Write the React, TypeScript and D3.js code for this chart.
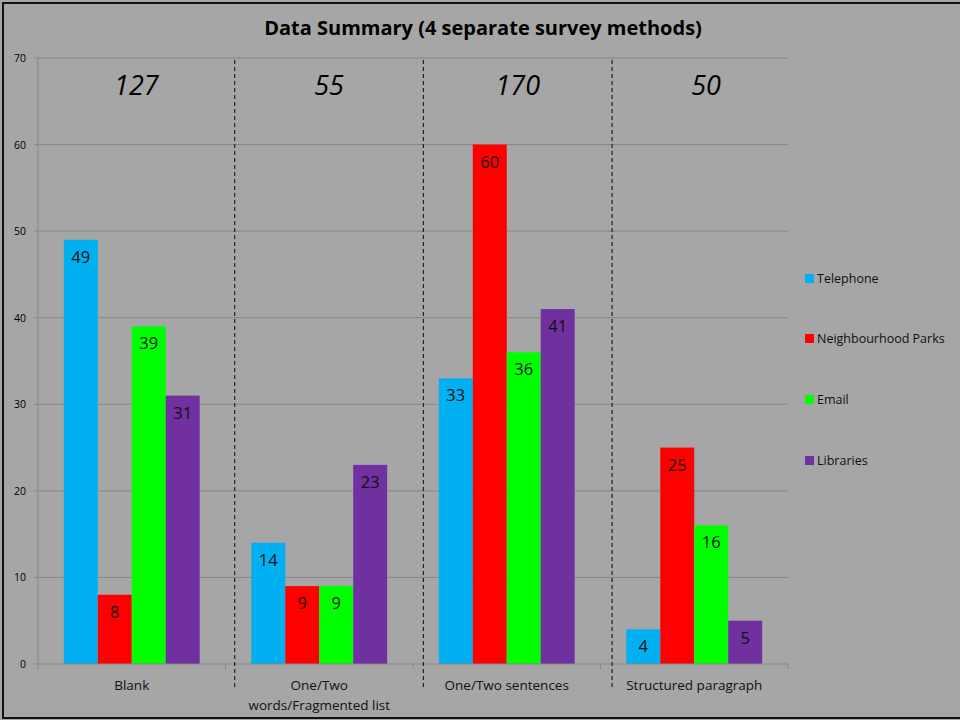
import React, { useEffect, useRef } from 'react';
import * as d3 from 'd3';

// categories, series and the totals shown above each group
const categories = ['Blank', 'One/Two words/Fragmented list', 'One/Two sentences', 'Structured paragraph'];
const categoryLines = [['Blank'], ['One/Two', 'words/Fragmented list'], ['One/Two sentences'], ['Structured paragraph']];
const seriesNames = ['Telephone', 'Neighbourhood Parks', 'Email', 'Libraries'];
const seriesColors = ['#00B0F0', '#FF0000', '#00FF00', '#7030A0'];
const telephone = [49, 14, 33, 4];
const parks = [8, 9, 60, 25];
const email = [39, 9, 36, 16];
const libraries = [31, 23, 41, 5];
const totals = [127, 55, 170, 50];
const yTicks = [0, 10, 20, 30, 40, 50, 60, 70];

const FONT = '"Open Sans", "Noto Sans", sans-serif';

const App = () => {
  const ref = useRef<SVGSVGElement | null>(null);

  useEffect(() => {
    const svg = d3.select(ref.current);
    svg.selectAll('*').remove();

    const W = 960, H = 720;
    const plot = { left: 38, right: 788, top: 58, bottom: 664 };

    svg.append('rect').attr('width', W).attr('height', H).attr('fill', '#A6A6A6');
    svg.append('rect')
      .attr('x', 3).attr('y', 3).attr('width', W + 10).attr('height', H - 5)
      .attr('fill', 'none').attr('stroke', '#111').attr('stroke-width', 2);

    // title
    svg.append('text')
      .attr('x', 483).attr('y', 35)
      .attr('text-anchor', 'middle')
      .style('font-family', FONT).style('font-size', '20px').style('font-weight', 'bold')
      .attr('fill', '#000')
      .text('Data Summary (4 separate survey methods)');

    const x0 = d3.scaleBand<string>().domain(categories).range([plot.left, plot.right]).paddingInner(0).paddingOuter(0);
    const x1 = d3.scaleBand<string>().domain(seriesNames).range([0, x0.bandwidth()]).paddingInner(0).paddingOuter(0.76);
    const y = d3.scaleLinear().domain([0, 70]).range([plot.bottom, plot.top]);

    // gridlines
    svg.append('g').selectAll('line')
      .data(yTicks.slice(1))
      .enter().append('line')
      .attr('x1', plot.left).attr('x2', plot.right)
      .attr('y1', d => y(d)).attr('y2', d => y(d))
      .attr('stroke', '#878787').attr('stroke-width', 1);

    // y axis line and labels
    svg.append('line')
      .attr('x1', plot.left).attr('x2', plot.left)
      .attr('y1', plot.top).attr('y2', plot.bottom)
      .attr('stroke', '#878787');
    svg.append('g').selectAll('line')
      .data(yTicks)
      .enter().append('line')
      .attr('x1', plot.left - 4).attr('x2', plot.left)
      .attr('y1', d => y(d)).attr('y2', d => y(d))
      .attr('stroke', '#878787');
    svg.append('g').selectAll('text')
      .data(yTicks)
      .enter().append('text')
      .attr('x', 26).attr('y', d => y(d) + 4)
      .attr('text-anchor', 'end')
      .style('font-family', FONT).style('font-size', '10.5px')
      .attr('fill', '#000')
      .text(d => d);

    // bars
    const allSeries = [telephone, parks, email, libraries];
    allSeries.forEach((vals, si) => {
      const g = svg.append('g');
      g.selectAll('rect')
        .data(vals)
        .enter().append('rect')
        .attr('x', (d, i) => (x0(categories[i]) as number) + (x1(seriesNames[si]) as number))
        .attr('y', d => y(d))
        .attr('width', x1.bandwidth())
        .attr('height', d => plot.bottom - y(d))
        .attr('fill', seriesColors[si]);
      g.selectAll('text')
        .data(vals)
        .enter().append('text')
        .attr('x', (d, i) => (x0(categories[i]) as number) + (x1(seriesNames[si]) as number) + x1.bandwidth() / 2)
        .attr('y', d => y(d) + 23)
        .attr('text-anchor', 'middle')
        .style('font-family', FONT).style('font-size', '16.5px')
        .attr('fill', '#111')
        .text(d => d);
    });

    // x axis line and ticks
    svg.append('line')
      .attr('x1', plot.left).attr('x2', plot.right)
      .attr('y1', plot.bottom).attr('y2', plot.bottom)
      .attr('stroke', '#878787');
    const bounds = categories.map(c => x0(c) as number).concat([plot.right]);
    svg.append('g').selectAll('line')
      .data(bounds)
      .enter().append('line')
      .attr('x1', d => d).attr('x2', d => d)
      .attr('y1', plot.bottom).attr('y2', plot.bottom + 5)
      .attr('stroke', '#878787');

    // category labels
    const catG = svg.append('g');
    categoryLines.forEach((lines, i) => {
      const cx = (x0(categories[i]) as number) + x0.bandwidth() / 2;
      lines.forEach((ln, li) => {
        catG.append('text')
          .attr('x', cx).attr('y', 690 + li * 20)
          .attr('text-anchor', 'middle')
          .style('font-family', FONT).style('font-size', '13.5px')
          .attr('fill', '#111')
          .text(ln);
      });
    });

    // dashed separators, drawn a little right of the category boundaries
    const sepX = [1, 2, 3].map(i => bounds[i] + 8 + i * 1.2);
    svg.append('g').selectAll('line')
      .data(sepX)
      .enter().append('line')
      .attr('x1', d => d).attr('x2', d => d)
      .attr('y1', plot.top + 2).attr('y2', 688)
      .attr('stroke', '#222').attr('stroke-width', 1.2)
      .attr('stroke-dasharray', '4,3');

    // totals above each group, centred between separators
    const edges = [plot.left, ...sepX, 800];
    svg.append('g').selectAll('text')
      .data(totals)
      .enter().append('text')
      .attr('x', (d, i) => (edges[i] + edges[i + 1]) / 2)
      .attr('y', 95)
      .attr('text-anchor', 'middle')
      .style('font-family', FONT).style('font-size', '27px').style('font-style', 'italic')
      .attr('fill', '#000')
      .text(d => d);

    // legend
    const legendY = [279, 339, 400, 461];
    const lg = svg.append('g');
    seriesNames.forEach((name, i) => {
      lg.append('rect')
        .attr('x', 805).attr('y', legendY[i] - 5)
        .attr('width', 9).attr('height', 9)
        .attr('fill', seriesColors[i]);
      lg.append('text')
        .attr('x', 817).attr('y', legendY[i] + 4)
        .style('font-family', FONT).style('font-size', '12.5px')
        .attr('fill', '#111')
        .text(name);
    });
  }, []);

  return (
    <svg
      ref={ref}
      width={960}
      height={720}
      style={{ position: 'absolute', left: 0, top: 0, display: 'block' }}
    />
  );
};

export default App;
